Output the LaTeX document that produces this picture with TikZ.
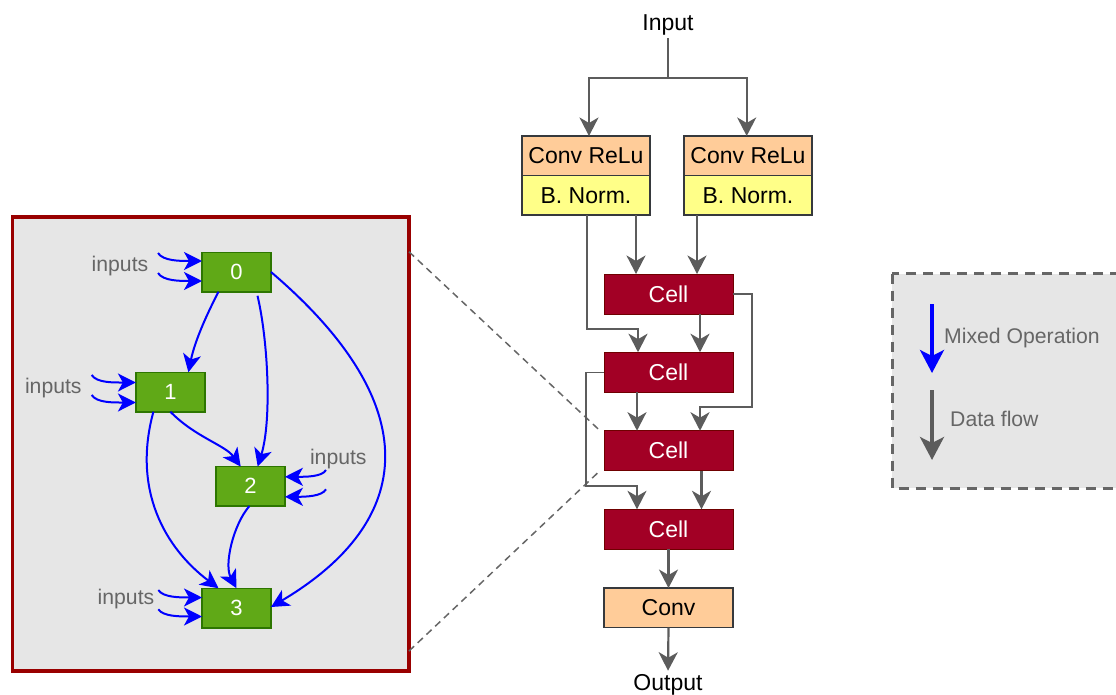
\documentclass[tikz,border=0pt]{standalone}
\usepackage{fontspec}
\setmainfont{Liberation Sans}
\usetikzlibrary{arrows.meta,calc}

\definecolor{flowgray}{HTML}{5C5C5C}
\definecolor{cellred}{HTML}{A20025}
\definecolor{cellborder}{HTML}{6F0000}
\definecolor{convfill}{HTML}{FFCC99}
\definecolor{normfill}{HTML}{FFFF88}
\definecolor{boxedge}{HTML}{36393D}
\definecolor{opgreen}{HTML}{60A917}
\definecolor{opborder}{HTML}{2D7600}
\definecolor{panelfill}{HTML}{E6E6E6}
\definecolor{panelred}{HTML}{990000}
\definecolor{mixblue}{HTML}{0000FF}
\definecolor{labelgray}{HTML}{666666}

\begin{document}
\begin{tikzpicture}[x=1pt,y=-1pt,
  big/.style={font=\fontsize{23}{27}\selectfont},
  small/.style={font=\fontsize{21.2}{25}\selectfont},
  convbox/.style={draw=boxedge, line width=1.5pt, fill=convfill, minimum width=128pt,
    minimum height=39.5pt, inner sep=0pt, outer sep=0pt, big},
  normbox/.style={convbox, fill=normfill},
  cellbox/.style={draw=cellborder, line width=1pt, fill=cellred, text=white,
    minimum width=129pt, minimum height=40pt, inner sep=0pt, outer sep=0pt, big},
  opnode/.style={draw=opborder, line width=1.5pt, fill=opgreen, text=white,
    minimum width=69pt, minimum height=39.5pt, inner sep=0pt, outer sep=0pt,
    font=\fontsize{22}{26}\selectfont},
  flow/.style={draw=flowgray, line width=2.2pt, -{Stealth[length=18.5pt,width=19pt,inset=5.5pt]}},
  thinflow/.style={flow, line width=1.4pt},
  mix/.style={draw=mixblue, line width=2pt, -{Stealth[length=18pt,width=18pt,inset=5pt]}},
  inlabel/.style={small, text=labelgray, anchor=base, inner sep=0pt},
  zoomline/.style={draw=labelgray, line width=1.5pt, dash pattern=on 7pt off 5pt},
  legendbox/.style={draw=labelgray, line width=3pt, dash pattern=on 10pt off 7pt, fill=panelfill},
]
\useasboundingbox (0,0) rectangle (1116,695);
\clip (0,0) rectangle (1116,695);

% ---------- main network ----------
\node[big, anchor=base, inner sep=2.5pt] (input) at (668,30.7) {Input};
\node[big, anchor=base, inner sep=3pt] (output) at (668,690) {Output};

\node[convbox] (convL) at (586,155.75) {Conv ReLu};
\node[normbox] (bnL)   at (586,195.25) {B. Norm.};
\node[convbox] (convR) at (748,155.75) {Conv ReLu};
\node[normbox] (bnR)   at (748,195.25) {B. Norm.};

\node[cellbox] (cell1) at (668.5,294)   {Cell};
\node[cellbox] (cell2) at (668.5,372.2) {Cell};
\node[cellbox] (cell3) at (668.5,450.7) {Cell};
\node[cellbox] (cell4) at (668.5,529.3) {Cell};
\node[convbox, minimum width=129pt] (conv) at (668.5,607.8) {Conv};

% entry points on the cells
\coordinate (c1a) at ([xshift=32pt]cell1.north west);
\coordinate (c1b) at ([xshift=93pt]cell1.north west);
\coordinate (c2a) at ([xshift=34pt]cell2.north west);
\coordinate (c2b) at ([xshift=96pt]cell2.north west);
\coordinate (c3a) at ([xshift=33pt]cell3.north west);
\coordinate (c3b) at ([xshift=96pt]cell3.north west);
\coordinate (c4a) at ([xshift=33pt]cell4.north west);
\coordinate (c4b) at ([xshift=97.5pt]cell4.north west);

% ---------- cell detail panel ----------
\node[draw=panelred, line width=3.5pt, fill=panelfill, minimum width=396.5pt,
  minimum height=454.25pt, inner sep=0pt, outer sep=0pt] (panel) at (210.75,443.9) {};

\draw[zoomline] ([yshift=-35pt]panel.north east) -- ([xshift=-4pt]cell3.north west);
\draw[zoomline] ([yshift=20pt]panel.south east) -- ([xshift=-4pt]cell3.south west);

% data flow
\draw[flow] (input.south) -- ++(0,40) -| ([xshift=3pt]convL.north);
\draw[flow] (input.south) -- ++(0,40) -| ([xshift=-1.3pt]convR.north);
\draw[flow] (bnL.south -| c1a) -- (c1a);
\draw[flow] (bnR.south -| c1b) -- (c1b);
\draw[flow] ([xshift=1pt]bnL.south) |- ([yshift=23pt]c2a) -- (c2a);
\draw[flow] (cell1.south -| c2b) -- (c2b);
\draw[flow] (cell1.east) -- ++(19,0) |- ([yshift=24pt]c3b) -- (c3b);
\draw[flow] (cell2.south -| c3a) -- (c3a);
\draw[thinflow] (cell2.west) -- ++(-18,0) |- ([yshift=23.5pt]c4a) -- (c4a);
\draw[flow] (cell3.south -| c4b) -- (c4b);
\draw[flow] (cell4.south) -- (conv.north);
\draw[flow] (conv.south) -- (output.north);

% ---------- operation nodes ----------
\node[opnode] (n0) at (236.5,272)   {0};
\node[opnode] (n1) at (170.4,392)   {1};
\node[opnode] (n2) at (250.4,486.3) {2};
\node[opnode] (n3) at (236.5,608)   {3};

\node[inlabel] (in0) at (120,271)   {inputs};
\node[inlabel] (in1) at (53.3,393.3) {inputs};
\node[inlabel] (in2) at (338.3,464.3) {inputs};
\node[inlabel] (in3) at (126,604.3) {inputs};

% external inputs of each node
\coordinate (s0a) at (158,253);
\coordinate (s0b) at (158,273);
\coordinate (s1a) at (91.7,375);
\coordinate (s1b) at (91.7,395);
\coordinate (s2a) at (326,470);
\coordinate (s2b) at (326,489.3);
\coordinate (s3a) at (158.3,590);
\coordinate (s3b) at (158.3,609.3);
\draw[mix] (s0a) .. controls (163,261) and (180,261) .. ([yshift=11pt]n0.west);
\draw[mix] (s0b) .. controls (163,281) and (180,281) .. ([yshift=-9pt]n0.west);
\draw[mix] (s1a) .. controls (96.7,383) and (114,382.5) .. ([yshift=9.5pt]n1.west);
\draw[mix] (s1b) .. controls (96.7,403) and (114,402.5) .. ([yshift=-10.5pt]n1.west);
\draw[mix] (s2a) .. controls (322,477) and (305,476.8) .. ([yshift=9.5pt]n2.east);
\draw[mix] (s2b) .. controls (322,496.5) and (305,496.8) .. ([yshift=-10.5pt]n2.east);
\draw[mix] (s3a) .. controls (163,597.5) and (180,597.5) .. ([yshift=10.5pt]n3.west);
\draw[mix] (s3b) .. controls (163,616.5) and (180,616.5) .. ([yshift=-8.5pt]n3.west);

% mixed operations between nodes
\draw[mix] ([xshift=-18pt]n0.south) .. controls (208,312) and (195,340) .. ([xshift=18pt]n1.north);
\draw[mix] ([xshift=21pt,yshift=-4pt]n0.south) .. controls (268,340) and (272,420) .. ([xshift=7.3pt]n2.north);
\draw[mix] (n0.east) .. controls (427,405) and (416,521) .. ([yshift=1pt]n3.east);
\draw[mix] (n1.south) .. controls (195,437) and (225,445) .. ([xshift=-9.7pt]n2.north);
\draw[mix] ([xshift=-17pt]n1.south) .. controls (132,490) and (165,548) .. ([xshift=-18pt]n3.north);
\draw[mix] ([xshift=-1pt]n2.south) .. controls (233,525) and (224,565) .. (n3.north);

% ---------- legend ----------
\draw[legendbox] (892,273.5) rectangle (1140,488);
\coordinate (lm1) at (932,304);
\coordinate (lm2) at (932,373);
\coordinate (ld1) at (932,390);
\coordinate (ld2) at (932,460);
\draw[draw=mixblue, line width=3.5pt, -{Stealth[length=23pt,width=24pt,inset=6pt]}] (lm1) -- (lm2);
\draw[draw=flowgray, line width=3.5pt, -{Stealth[length=23pt,width=24pt,inset=6pt]}] (ld1) -- (ld2);
\node[small, text=labelgray, anchor=base west, inner sep=0pt] (lgmix) at (944,343.3) {Mixed Operation};
\node[small, text=labelgray, anchor=base west, inner sep=0pt] (lgflow) at (950,426.7) {Data flow};
\end{tikzpicture}
\end{document}
